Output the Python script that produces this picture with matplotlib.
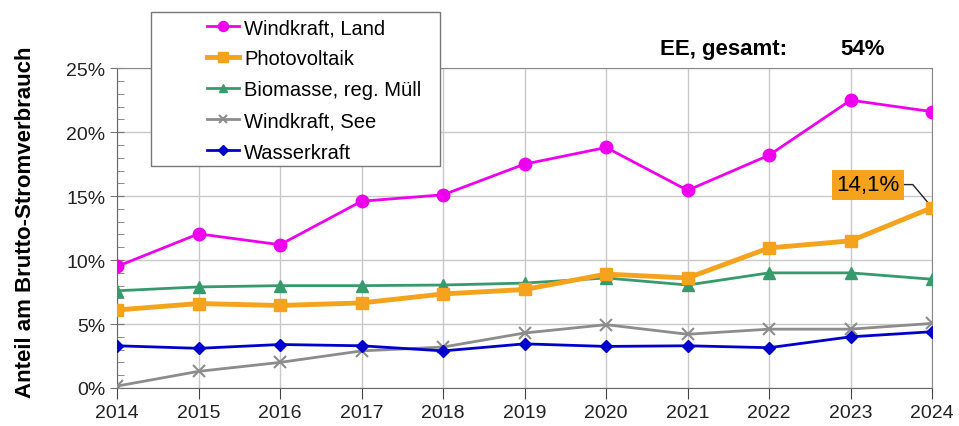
import numpy as np
from matplotlib import pyplot as plt
from matplotlib.patches import Rectangle
from matplotlib.ticker import MultipleLocator, FuncFormatter

plt.rcParams['font.family'] = ['Liberation Sans', 'DejaVu Sans']

years = [2014, 2015, 2016, 2017, 2018, 2019, 2020, 2021, 2022, 2023, 2024]

wind_land = [9.5, 12.05, 11.2, 14.6, 15.1, 17.5, 18.8, 15.45, 18.2, 22.5, 21.6]
pv = [6.1, 6.6, 6.45, 6.65, 7.35, 7.7, 8.9, 8.6, 10.95, 11.5, 14.1]
biomasse = [7.6, 7.9, 8.0, 8.0, 8.05, 8.2, 8.6, 8.05, 9.0, 9.0, 8.5]
wind_see = [0.15, 1.3, 2.0, 2.9, 3.2, 4.3, 4.95, 4.2, 4.6, 4.6, 5.05]
wasser = [3.3, 3.1, 3.4, 3.3, 2.9, 3.45, 3.25, 3.3, 3.15, 4.0, 4.4]

fig = plt.figure(figsize=(9.59, 4.27), dpi=100)
ax = fig.add_axes([0.122, 0.089, 0.850, 0.749])

ax.plot(years, wind_land, color='#EE00EE', lw=2, marker='o', ms=9,
        label='Windkraft, Land', zorder=5)
ax.plot(years, pv, color='#F5A21C', lw=3.5, marker='s', ms=9,
        label='Photovoltaik', zorder=4)
ax.plot(years, biomasse, color='#379A6C', lw=2, marker='^', ms=8,
        label='Biomasse, reg. Müll', zorder=3)
ax.plot(years, wind_see, color='#8C8C8C', lw=2, marker='x', ms=8, mew=1.5,
        label='Windkraft, See', zorder=3)
ax.plot(years, wasser, color='#0000CC', lw=2, marker='D', ms=6,
        label='Wasserkraft', zorder=3)

ax.set_xlim(2014, 2024)
ax.set_ylim(0, 25)
ax.set_xticks(years)
ax.yaxis.set_major_locator(MultipleLocator(5))
ax.yaxis.set_minor_locator(MultipleLocator(1))
ax.yaxis.set_major_formatter(FuncFormatter(lambda v, p: '%d%%' % v))
ax.tick_params(axis='both', labelsize=14, colors='#222222')
ax.tick_params(axis='y', which='major', direction='inout', length=10, color='#777777')
ax.tick_params(axis='y', which='minor', direction='in', length=5, color='#777777')
ax.tick_params(axis='x', which='major', direction='out', length=8, color='#444444')
ax.grid(True, which='major', color='#C8C8C8', lw=1)
for s in ax.spines.values():
    s.set_color('#888888')
ax.spines['left'].set_color('#666666')
ax.spines['bottom'].set_color('#666666')

ax.set_ylabel('Anteil am Brutto-Stromverbrauch', fontsize=16, fontweight='bold')
ax.yaxis.set_label_coords(-0.099, 0.52)

# label for last PV value
ax.annotate('14,1%', xy=(2024, pv[-1]), xytext=(2022.82, 15.9),
            fontsize=16, ha='left', va='center',
            bbox=dict(boxstyle='square,pad=0.2', fc='#F5A21C', ec='none'),
            arrowprops=dict(arrowstyle='-', color='#222222', lw=1,
                            shrinkA=0, shrinkB=0, relpos=(1, 0.5),
                            connectionstyle='angle,angleA=0,angleB=130,rad=0'))

fig.text(0.688, 0.885, 'EE, gesamt:', fontsize=16, fontweight='bold', ha='left',
         va='center')
fig.text(0.876, 0.885, '54%', fontsize=16, fontweight='bold', ha='left',
         va='center')

# legend box (drawn by hand, the entries sit off-centre in it)
fig.patches.append(Rectangle((0.1575, 0.609), 0.3014, 0.3607,
                             transform=fig.transFigure, fc='white',
                             ec='#777777', lw=1, zorder=6))
leg = fig.legend(loc='upper left', bbox_to_anchor=(0.216, 0.955),
                 fontsize=14.5, frameon=False, markerscale=0.8,
                 handlelength=1.6, handletextpad=0.25, borderpad=0,
                 labelspacing=0.6, borderaxespad=0)
leg.set_zorder(7)

fig.savefig('out.png', dpi=100)
